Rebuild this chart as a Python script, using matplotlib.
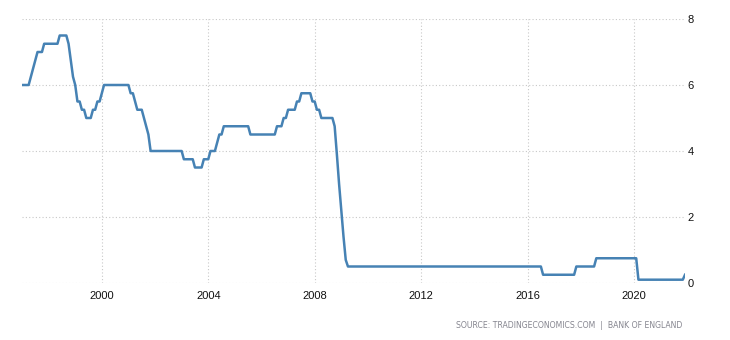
import numpy as np
import matplotlib
matplotlib.use('Agg')
import matplotlib.pyplot as plt

# vertices of the rate line (month, percent)
months = ['1997-01', '1997-04', '1997-05', '1997-06', '1997-07', '1997-08', '1997-10',
          '1997-11', '1998-05', '1998-06', '1998-09', '1998-10', '1998-11', '1998-12',
          '1999-01', '1999-02', '1999-03', '1999-04', '1999-05', '1999-06', '1999-08',
          '1999-09', '1999-10', '1999-11', '1999-12', '2000-01', '2000-02', '2001-01',
          '2001-02', '2001-03', '2001-04', '2001-05', '2001-07', '2001-08', '2001-09',
          '2001-10', '2001-11', '2003-01', '2003-02', '2003-06', '2003-07', '2003-10',
          '2003-11', '2004-01', '2004-02', '2004-04', '2004-05', '2004-06', '2004-07',
          '2004-08', '2005-07', '2005-08', '2006-07', '2006-08', '2006-10', '2006-11',
          '2006-12', '2007-01', '2007-04', '2007-05', '2007-06', '2007-07', '2007-11',
          '2007-12', '2008-01', '2008-02', '2008-03', '2008-04', '2008-09', '2008-10',
          '2008-11', '2008-12', '2009-01', '2009-02', '2009-03', '2009-04', '2016-07',
          '2016-08', '2017-10', '2017-11', '2018-07', '2018-08', '2020-02', '2020-03',
          '2021-11', '2021-12']
rates = [6.0, 6.0, 6.25, 6.5, 6.75, 7.0, 7.0,
         7.25, 7.25, 7.5, 7.5, 7.25, 6.75, 6.25,
         6.0, 5.5, 5.5, 5.25, 5.25, 5.0, 5.0,
         5.25, 5.25, 5.5, 5.5, 5.75, 6.0, 6.0,
         5.75, 5.75, 5.5, 5.25, 5.25, 5.0, 4.75,
         4.5, 4.0, 4.0, 3.75, 3.75, 3.5, 3.5,
         3.75, 3.75, 4.0, 4.0, 4.25, 4.5, 4.5,
         4.75, 4.75, 4.5, 4.5, 4.75, 4.75, 5.0,
         5.0, 5.25, 5.25, 5.5, 5.5, 5.75, 5.75,
         5.5, 5.5, 5.25, 5.25, 5.0, 5.0, 4.75,
         3.9, 3.0, 2.2, 1.4, 0.7, 0.5, 0.5,
         0.25, 0.25, 0.5, 0.5, 0.75, 0.75, 0.1,
         0.1, 0.25]
x_ticks = [2000, 2004, 2008, 2012, 2016, 2020]
y_ticks = [0, 2, 4, 6, 8]
source = 'SOURCE: TRADINGECONOMICS.COM  |  BANK OF ENGLAND'


def to_year(m):
    y, mo = m.split('-')
    return int(y) + (int(mo) - 1) / 12.0


t = np.array([to_year(m) for m in months])

fig = plt.figure(figsize=(7.3, 3.4), dpi=100)
ax = fig.add_axes([22 / 730, 1 - 283 / 340, (685 - 22) / 730, (283 - 19) / 340])

ax.plot(t, rates, color='#4682b4', lw=1.8, solid_joinstyle='round', zorder=3)

ax.set_xlim(t[0], t[-1])
ax.set_ylim(0, 8)
ax.set_xticks(x_ticks)
ax.set_xticklabels([str(v) for v in x_ticks])
ax.set_yticks(y_ticks)
ax.yaxis.tick_right()
ax.tick_params(axis='both', length=0, labelsize=8, labelcolor='#111111')
ax.tick_params(axis='x', pad=6)
ax.tick_params(axis='y', pad=2)
for lab in ax.get_xticklabels() + ax.get_yticklabels():
    lab.set_family('Liberation Sans')

ax.grid(True, color='#c8c8c8', linestyle=(0, (1, 2)), linewidth=0.8)
for s in ax.spines.values():
    s.set_visible(False)

fig.text(682 / 730, 1 - 325 / 340, source, ha='right', va='center',
         fontsize=5.6, color='#85858f', family='DejaVu Sans')

fig.savefig('out.png', dpi=100)
